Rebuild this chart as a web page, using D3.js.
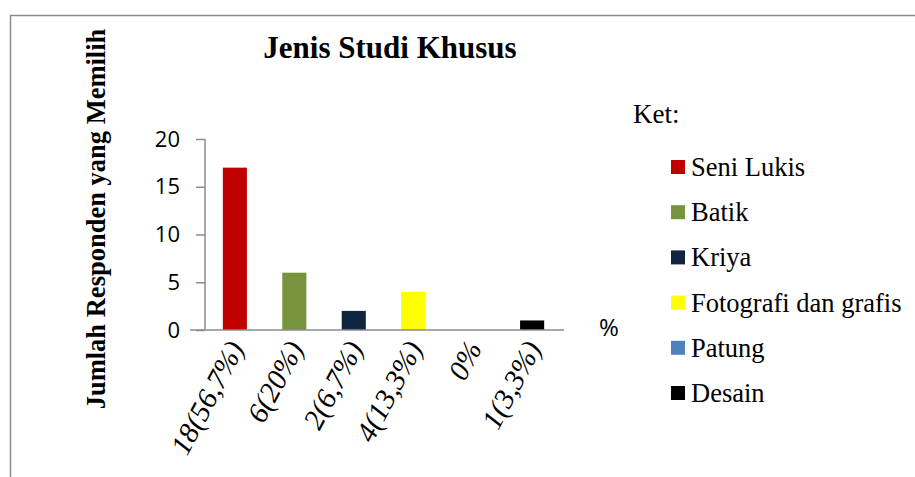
<!DOCTYPE html>
<html>
<head>
<meta charset="utf-8">
<script src="https://cdn.jsdelivr.net/npm/d3@7"></script>
<style>
  body { margin: 0; background: #fff; }
  svg { display: block; }
</style>
</head>
<body>
<svg id="chart"></svg>
<script>
const categories = ['Seni Lukis', 'Batik', 'Kriya', 'Fotografi dan grafis', 'Patung', 'Desain'];
const values = [17, 6, 2, 4, 0, 1];
const tickLabels = ['18(56,7%)', '6(20%)', '2(6,7%)', '4(13,3%)', '0%', '1(3,3%)'];
const colors = ['#c00000', '#77933c', '#10253f', '#ffff00', '#4f81bd', '#000000'];
const yTicks = [0, 5, 10, 15, 20];

const W = 915, H = 477;
const margin = { top: 139, left: 205, right: W - 562, bottom: H - 330 };
const width = W - margin.left - margin.right;
const height = H - margin.top - margin.bottom;

const serif = '"Liberation Serif", "Times New Roman", serif';
const sans = '"Open Sans", sans-serif';

const svg = d3.select('#chart').attr('width', W).attr('height', H);

// outer frame (runs off the right/bottom edges)
svg.append('rect')
  .attr('x', 10.5).attr('y', 15.5)
  .attr('width', W + 20).attr('height', H + 20)
  .attr('fill', 'none').attr('stroke', '#8c8c8c').attr('stroke-width', 1.5);

const chart = svg.append('g').attr('transform', `translate(${margin.left},${margin.top})`);

const x = d3.scaleBand().domain(tickLabels).range([0, width]).paddingInner(0.595).paddingOuter(0.3);
const y = d3.scaleLinear().domain([0, 20]).range([height, 0]);

// bars
chart.selectAll('.bar')
  .data(values)
  .enter()
  .append('rect')
  .attr('class', 'bar')
  .attr('x', (d, i) => x(tickLabels[i]))
  .attr('y', d => y(d))
  .attr('width', x.bandwidth())
  .attr('height', d => height - y(d))
  .attr('fill', (d, i) => colors[i]);

// y axis
const yAxis = chart.append('g')
  .call(d3.axisLeft(y).tickValues(yTicks).tickSize(9).tickPadding(16));
yAxis.select('.domain').attr('stroke', '#8c8c8c').attr('stroke-width', 1.5).attr('d', `M0,0V${height}`);
yAxis.selectAll('.tick line').attr('stroke', '#8c8c8c').attr('stroke-width', 1.5);
yAxis.selectAll('.tick text')
  .attr('font-family', sans)
  .attr('font-size', 22)
  .attr('fill', '#000');

// x axis
const xAxis = chart.append('g')
  .attr('transform', `translate(0,${height})`)
  .call(d3.axisBottom(x).tickSize(0).tickPadding(0));
xAxis.select('.domain').attr('stroke', '#8c8c8c').attr('stroke-width', 1.5).attr('d', `M-15,0H${width + 2}`);
xAxis.selectAll('.tick text')
  .attr('font-family', serif)
  .attr('font-style', 'italic')
  .attr('font-size', 29)
  .attr('fill', '#000')
  .attr('text-anchor', 'end')
  .attr('dy', 0)
  .attr('transform', 'translate(10,18) rotate(-62)');

// % label
svg.append('text')
  .attr('x', 599).attr('y', 336)
  .attr('font-family', sans)
  .attr('font-size', 24)
  .text('%');

// title
svg.append('text')
  .attr('x', 390).attr('y', 58)
  .attr('text-anchor', 'middle')
  .attr('font-family', serif)
  .attr('font-weight', 'bold')
  .attr('font-size', 31)
  .text('Jenis Studi Khusus');

// y title
svg.append('text')
  .attr('transform', 'translate(105,219) rotate(-90)')
  .attr('text-anchor', 'middle')
  .attr('font-family', serif)
  .attr('font-weight', 'bold')
  .attr('font-size', 26.5)
  .text('Jumlah Responden yang Memilih');

// legend
svg.append('text')
  .attr('x', 633).attr('y', 123)
  .attr('font-family', serif)
  .attr('font-size', 27)
  .text('Ket:');

const legend = svg.append('g').attr('transform', 'translate(671,167)');
const item = legend.selectAll('.item')
  .data(categories)
  .enter()
  .append('g')
  .attr('class', 'item')
  .attr('transform', (d, i) => `translate(0,${i * 45.2})`);
item.append('rect')
  .attr('x', 0).attr('y', -7)
  .attr('width', 14).attr('height', 14)
  .attr('fill', (d, i) => colors[i]);
item.append('text')
  .attr('x', 20).attr('y', 9)
  .attr('font-family', serif)
  .attr('font-size', 26.5)
  .text(d => d);
</script>
</body>
</html>
